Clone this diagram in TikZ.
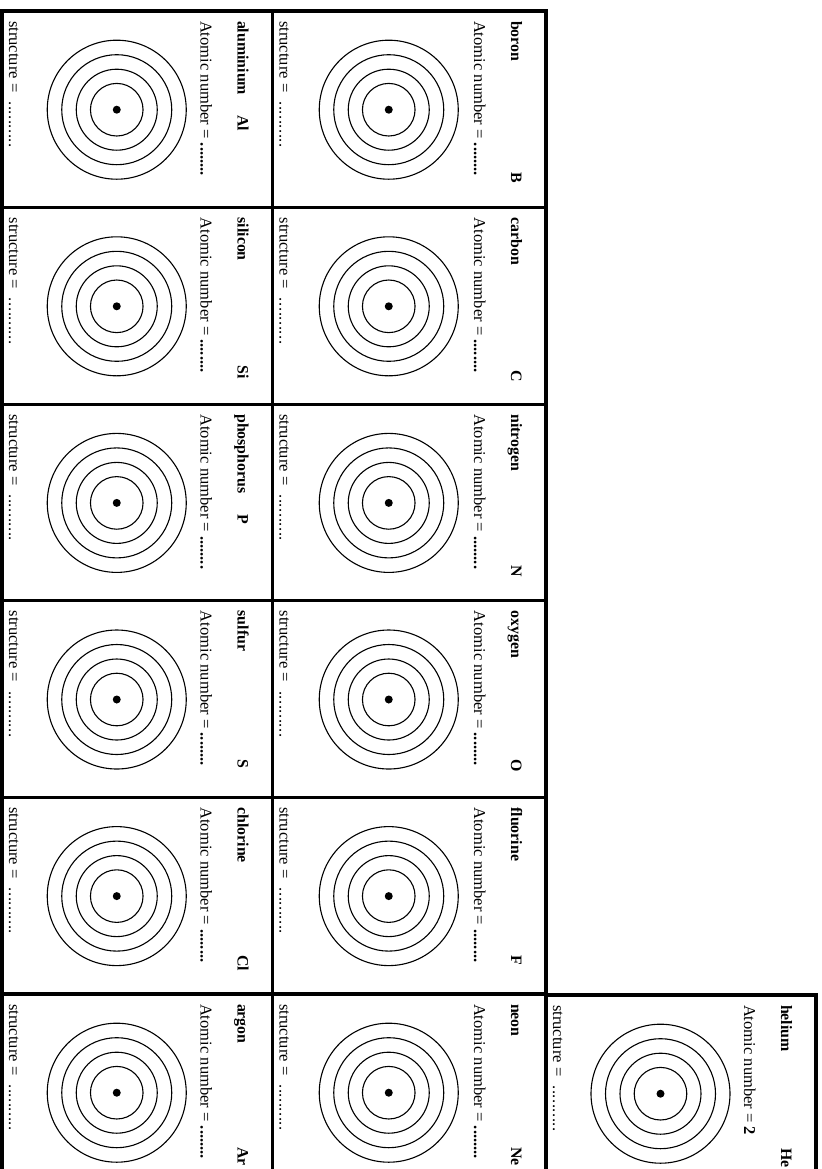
\documentclass[tikz,border=0pt]{standalone}
\usepackage{fontspec}
\setmainfont{Liberation Serif}
\newcommand{\atomcell}[8]{%
  \node[lbl,font=\titlefont] (#1name) at (#3-35,#4+10) {#5};
  \node[lbl,font=\titlefont] (#1sym) at (#3-35,#4+#7) {#6};
  \node[lbl] (#1num) at (#3-72,#4+10) {Atomic number = \textbf{#8}};
  \node[lbl] (#1str) at (#2+7,#4+10) {structure =\hspace{6.5pt}\sdots};
  \coordinate (#1c) at ({(#2+#3)/2-20.5},#4+98.7);
  \foreach \r in {26.3,40.5,55,69.5} \draw[shell] (#1c) circle[radius=\r];
  \fill (#1c) circle[radius=4];
}
\newcommand{\titlefont}{\fontsize{11.5}{13}\selectfont\bfseries}
\newcommand{\sdots}{.\kern0.4pt.\kern0.4pt.\kern0.4pt.\kern0.4pt.\kern0.4pt.\kern0.4pt.\kern0.4pt.\kern0.4pt.\kern0.4pt.}
\begin{document}
\begin{tikzpicture}[x=0.725pt,y=-0.725pt,
  font=\fontsize{12}{14}\selectfont,
  lbl/.style={inner sep=0pt,outer sep=0pt,anchor=base west,rotate=-90},
  shell/.style={line width=0.8pt},
  gridline/.style={line width=2.2pt,line join=miter}]
\useasboundingbox (0,0) rectangle (821,1169);
\clip (0,0) rectangle (821,1169);
\fill[white] (0,0) rectangle (821,1169);
% grid
\draw[gridline] (2,1200) -- (2,11) -- (546,11) -- (546,1200);
\draw[gridline] (272.5,11) -- (272.5,1200);
\foreach \y in {207.6,404.2,600.8,797.4,994} \draw[gridline] (2,\y) -- (546,\y);
\draw[gridline] (546,995) -- (816,995) -- (816,1200);
% right column
\atomcell{b}{272.5}{546}{11}{boron}{B}{161}{........}
\atomcell{c}{272.5}{546}{207.6}{carbon}{C}{163}{........}
\atomcell{n}{272.5}{546}{404.2}{nitrogen}{N}{161}{........}
\atomcell{o}{272.5}{546}{600.8}{oxygen}{O}{159}{........}
\atomcell{f}{272.5}{546}{797.4}{fluorine}{F}{158}{........}
\atomcell{ne}{272.5}{546}{994}{neon}{Ne}{153}{........}
% left column
\atomcell{al}{2}{272.5}{11}{aluminium}{Al}{104}{........}
\atomcell{si}{2}{272.5}{207.6}{silicon}{Si}{158}{........}
\atomcell{p}{2}{272.5}{404.2}{phosphorus}{P}{110}{........}
\atomcell{s}{2}{272.5}{600.8}{sulfur}{S}{159}{........}
\atomcell{cl}{2}{272.5}{797.4}{chlorine}{Cl}{158}{........}
\atomcell{ar}{2}{272.5}{994}{argon}{Ar}{153}{........}
% helium
\atomcell{he}{546}{816}{995}{helium}{He}{153}{2}
\end{tikzpicture}
\end{document}
